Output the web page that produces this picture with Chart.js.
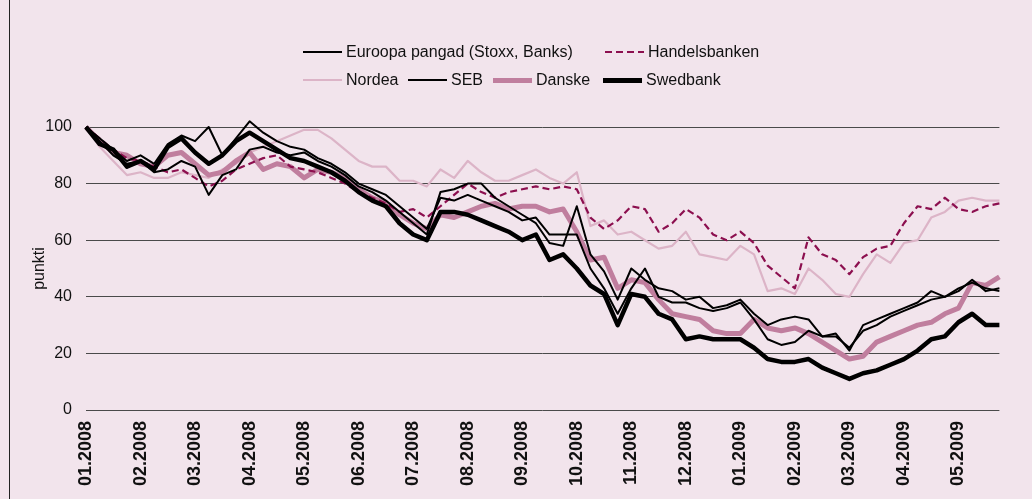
<!DOCTYPE html>
<html lang="et">
<head>
<meta charset="UTF-8">
<title>Pankade aktsiahinnad</title>
<script src="https://cdn.jsdelivr.net/npm/chart.js"></script>
<style>
  html, body { margin: 0; padding: 0; background: #f2e4ec; }
  body { width: 1032px; height: 499px; overflow: hidden; position: relative;
         font-family: 'Liberation Sans', Arial, sans-serif; }
  .frame { position: absolute; left: 9px; top: 0; width: 1px; height: 499px; background: #222; }
  #chart { position: absolute; left: 0; top: 0; }
  .legend-item { position: absolute; display: flex; align-items: center; height: 20px;
                 font-size: 16px; color: #111; white-space: nowrap; }
  .swatch { display: inline-block; width: 39px; margin-right: 4px; }
</style>
</head>
<body>
<div class="frame"></div>
<canvas id="chart" width="1032" height="499"></canvas>
<div id="legend"></div>

<script>
// month tick labels, data is read roughly once a week (4 points per month)
const months = ['01.2008','02.2008','03.2008','04.2008','05.2008','06.2008','07.2008','08.2008',
                '09.2008','10.2008','11.2008','12.2008','01.2009','02.2009','03.2009','04.2009','05.2009'];

const euroopa = [100,95,90,87,88,84,85,88,86,76,83,85,92,93,91,90,91,
                 88,86,83,79,77,74,70,66,
                 62,77,78,80,80,75,72,69,66,59,58,72,55,49,39,50,46,43,42,39,40,36,37,39,34,
                 30,32,33,32,26,27,21,30,32,34,36,38,42,40,42,46,42,43];
const handelsbanken = [100,96,92,89,88,86,84,85,82,79,81,85,87,89,90,86,85,84,82,80,
                       77,75,73,70,71,68,72,76,80,77,75,77,78,79,78,79,78,68,64,67,
                       72,71,63,66,71,68,62,60,63,59,51,47,43,61,55,53,48,54,57,58,
                       66,72,71,75,71,70,72,73];
const nordea = [100,93,88,83,84,82,82,84,83,82,85,87,91,93,95,97,99,99,96,92,
                88,86,86,81,81,79,85,82,88,84,81,81,83,85,82,80,84,65,67,62,
                63,60,57,58,63,55,54,53,58,55,42,43,41,50,46,41,40,48,55,52,
                59,60,68,70,74,75,74,74];
const seb = [100,96,92,88,90,87,94,97,95,100,90,96,102,98,95,93,92,
             89,87,84,80,78,76,72,68,
             64,75,74,76,74,72,70,67,68,62,62,62,50,43,34,43,50,40,38,38,36,35,36,38,32,
             25,23,24,28,26,26,22,28,30,33,35,37,39,40,43,45,43,42];
const danske = [100,95,91,90,87,86,90,91,87,83,84,88,91,85,87,86,82,85,84,82,
                78,75,73,69,66,64,69,68,70,72,73,71,72,72,70,71,63,53,54,43,
                46,45,39,34,33,32,28,27,27,32,29,28,29,27,24,21,18,19,24,26,
                28,30,31,34,36,45,44,47];
const swedbank = [100,94,92,86,88,85,93,96,91,87,90,95,98,95,92,89,88,86,84,81,
                  77,74,72,66,62,60,70,70,69,67,65,63,60,62,53,55,50,44,41,30,
                  41,40,34,32,25,26,25,25,25,22,18,17,17,18,15,13,11,13,14,16,
                  18,21,25,26,31,34,30,30];

const FONT = "'Liberation Sans', Arial, sans-serif";

// weekly labels: month name on first week, blanks after
const labels = [];
months.forEach(m => { labels.push(m, '', '', ''); });

// first dataset ends up on top
const series = [
  { label: 'Swedbank', data: swedbank, color: '#000000', width: 4.5 },
  { label: 'Euroopa pangad (Stoxx, Banks)', data: euroopa, color: '#000000', width: 2 },
  { label: 'SEB', data: seb, color: '#000000', width: 2 },
  { label: 'Handelsbanken', data: handelsbanken, color: '#8c0f4f', width: 2.2, dash: [7, 4] },
  { label: 'Danske', data: danske, color: '#c07e9e', width: 5 },
  { label: 'Nordea', data: nordea, color: '#dcb4c7', width: 2.2 }
];

new Chart(document.getElementById('chart'), {
  type: 'line',
  data: {
    labels: labels,
    datasets: series.map(s => ({
      label: s.label,
      data: s.data.slice(0, labels.length),
      borderColor: s.color,
      borderWidth: s.width,
      borderDash: s.dash || [],
      pointRadius: 0,
      tension: 0,
      clip: false
    }))
  },
  options: {
    responsive: false,
    animation: false,
    layout: { padding: { top: 127, right: 2, left: 0, bottom: 0 } },
    plugins: { legend: { display: false }, tooltip: { enabled: false } },
    elements: { line: { borderJoinStyle: 'round' } },
    scales: {
      x: {
        grid: { display: false, drawTicks: false },
        border: { display: false },
        ticks: { autoSkip: false, maxRotation: 90, minRotation: 90, padding: 11,
                 color: '#111', font: { size: 18, weight: 'bold', family: FONT } },
        afterFit(scale) { scale.height = 89; }
      },
      y: {
        min: 0, max: 100,
        ticks: { stepSize: 20, padding: 14, color: '#111', font: { size: 16, family: FONT } },
        grid: { color: '#4a4a4a', lineWidth: 1, drawTicks: false },
        border: { display: false },
        title: { display: true, text: 'punkti', color: '#111',
                 font: { size: 16, family: FONT }, padding: { top: 30, bottom: 0 } },
        afterFit(scale) { scale.width = 86; }
      }
    }
  }
});

// legend laid out like the original: two rows
const legendSpots = [
  { name: 'Euroopa pangad (Stoxx, Banks)', left: 303, top: 42 },
  { name: 'Handelsbanken', left: 605, top: 42 },
  { name: 'Nordea', left: 303, top: 70 },
  { name: 'SEB', left: 408, top: 70 },
  { name: 'Danske', left: 493, top: 70 },
  { name: 'Swedbank', left: 603, top: 70 }
];
const legend = document.getElementById('legend');
legendSpots.forEach(spot => {
  const s = series.find(x => x.label === spot.name);
  const item = document.createElement('div');
  item.className = 'legend-item';
  item.style.left = spot.left + 'px';
  item.style.top = spot.top + 'px';
  const sw = document.createElement('span');
  sw.className = 'swatch';
  sw.style.height = Math.round(s.width) + 'px';
  if (s.dash) {
    sw.style.background = 'repeating-linear-gradient(to right, ' + s.color + ' 0 7px, transparent 7px 11px)';
  } else {
    sw.style.background = s.color;
  }
  const txt = document.createElement('span');
  txt.textContent = s.label;
  item.appendChild(sw);
  item.appendChild(txt);
  legend.appendChild(item);
});
</script>
</body>
</html>
